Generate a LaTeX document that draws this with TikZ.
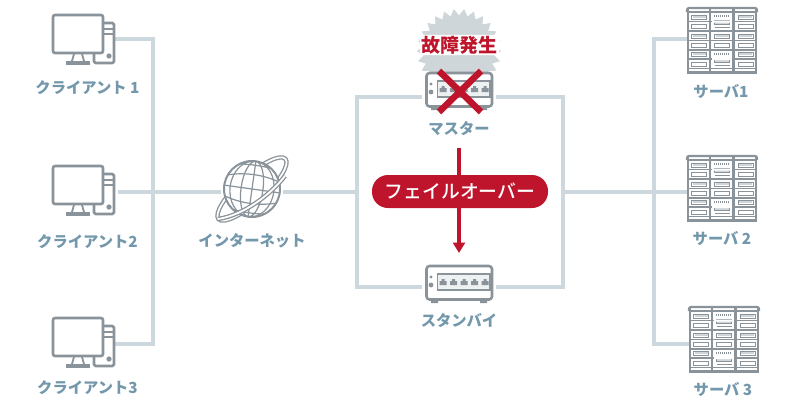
\documentclass[tikz,border=0pt]{standalone}
\usepackage{fontspec}
\setmainfont{Noto Sans CJK JP}
\newfontfamily\labelfont{Noto Sans CJK JP Medium}
\usetikzlibrary{shapes.geometric,arrows.meta}
\definecolor{linegray}{HTML}{CCD8DE}
\definecolor{icongray}{HTML}{8A9399}
\definecolor{palegray}{HTML}{CFD6DA}
\definecolor{labelblue}{HTML}{7498AB}
\definecolor{alertred}{HTML}{BF152C}
\tikzset{
    link/.style={draw=linegray,line width=3.1pt},
    spot/.style={inner sep=0pt,outer sep=0pt,minimum height=4pt},
    tag/.style={text=labelblue,font=\bfseries\fontsize{15.3}{15.3}\selectfont,inner sep=0pt},
    icon/.style={draw=icongray,line width=2.6pt,line join=round},
    pics/client/.style={code={
        \draw[icon,rounded corners=1.5pt] (100,23) -- (114,23) -- (114,63) -- (94,63) -- (94,52);
        \draw[icongray,line width=2.6pt] (104,29) -- (113,29) (104,34) -- (113,34);
        \fill[icongray] (109,56) circle (2.6);
        \draw[icon,fill=white,rounded corners=2pt] (53,15) rectangle (103,53);
        \draw[icongray,line width=1.8pt] (74,54) -- (72,61) (82,54) -- (84,61);
        \draw[icongray,line width=3.2pt] (66,63) -- (90,63);
    }},
    pics/switchbox/.style={code={
        \draw[icon,fill=white,rounded corners=3pt] (426.5,266) rectangle (492,299.5);
        \draw[icongray,line width=1.1pt,fill=palegray!35] (437.5,274) rectangle (490,290);
        \fill[icongray] (431,277) circle (1.6) (431,285) circle (2.4);
        \foreach \px in {443,453.5,464,474.5,485}
            \fill[icongray] (\px-3.5,285) -- (\px-3.5,281) -- (\px-1.5,281) -- (\px-1.5,279) -- (\px+1.5,279) -- (\px+1.5,281) -- (\px+3.5,281) -- (\px+3.5,285) -- cycle;
        \fill[icongray] (431,300) rectangle (438,303) (480,300) rectangle (487,303);
    }},
    pics/rack/.style={code={
        % three columns, six rows
        \foreach \cx in {688,711,734.5} {
            \foreach \ry/\rc in {17/palegray,26.5/white,36/palegray,45/white,54.5/palegray,64/white} {
                \draw[icongray,line width=.9pt,fill=white] (\cx+3.5,\ry-2) rectangle (\cx+18.5,\ry+2);
                \fill[\rc] (\cx+4.5,\ry-1.5) rectangle (\cx+17.5,\ry+.5);
            }
        }
        % the middle column has two wider units
        \foreach \ry in {12,50} {
            \fill[white] (712,\ry+1) rectangle (732,\ry+18);
            \draw[icongray,line width=1.3pt,dash pattern=on 1pt off 1pt] (714,\ry+4) -- (730,\ry+4);
            \draw[icongray,line width=.9pt,fill=palegray] (714.5,\ry+8.5) rectangle (729.5,\ry+12);
            \draw[icongray,line width=1.4pt] (714.5,\ry+15.5) -- (729.5,\ry+15.5);
        }
        \foreach \ry in {12,21.5,31,40.5,50,59,68.5}
            \draw[icongray,line width=1.8pt] (688,\ry) -- (756,\ry);
        \fill[white] (712,21.5-1) rectangle (732,21.5+1) (712,59-1) rectangle (732,59+1);
        \foreach \cx in {688,710,733.5,756}
            \draw[icongray,line width=2.2pt] (\cx,9) -- (\cx,72);
        \draw[icongray,line width=2.2pt,rounded corners=2pt] (687,12) |- (757,8) -- (757,12);
        \draw[icongray,line width=2.4pt] (687,72.5) -- (757,72.5);
    }},
}
\begin{document}
\begin{tikzpicture}[x=1pt,y=-1pt]
    \useasboundingbox (0,0) rectangle (810,407);
    % anchors of the icons
    \node[spot,minimum width=62pt] (client1) at (84,39) {};
    \node[spot,minimum width=62pt] (client2) at (87,192) {};
    \node[spot,minimum width=62pt] (client3) at (84,344) {};
    \node[spot,minimum width=62pt] (inter) at (252,192) {};
    \node[spot,minimum width=74pt] (master) at (459,97) {};
    \node[spot,minimum width=74pt] (standby) at (459,287) {};
    \node[spot,minimum width=71pt] (server1) at (722,39) {};
    \node[spot,minimum width=71pt] (server2) at (722,192) {};
    \node[spot,minimum width=71pt] (server3) at (724,344) {};
    \coordinate (busl) at (153,192);
    \coordinate (busm) at (357,192);
    \coordinate (busr) at (563,192);
    \coordinate (buss) at (654,192);
    \coordinate (failtop) at (459,148);
    \coordinate (failend) at (459,253);
    % connectors
    \draw[link] (client1.east) -| (busl) |- (client3.east);
    \draw[link] (client2.east) -- (inter.west);
    \draw[link] (inter.east) -- (busm);
    \draw[link] (master.west) -| (busm) |- (standby.west);
    \draw[link] (master.east) -| (busr) |- (standby.east);
    \draw[link] (busr) -- (buss);
    \draw[link] (server1.west) -| (buss) |- (server3.west);
    \draw[link] (server2.west) -- (buss);
    % clients
    \foreach \cy in {0,151,303}
        \pic[yshift=-\cy pt] {client};
    \node[tag] (clabel1) at (87.5,88) {クライアント 1};
    \node[tag] (clabel2) at (87.5,242) {クライアント2};
    \node[tag] (clabel3) at (87.5,388) {クライアント3};
    % globe
    \begin{scope}[shift={(252,189)},icongray,line width=1.2pt]
        \draw[line width=4.4pt] (0,0) ellipse [x radius=45,y radius=13,rotate=42];
        \draw[white,line width=1.8pt] (0,0) ellipse [x radius=45,y radius=13,rotate=42];
        \fill[white] (0,0) circle (28);
        \begin{scope}[rotate=-8]
            \clip (0,0) circle (28);
            \draw (0,0) ellipse (11 and 28) (0,0) ellipse (22 and 28) (0,-28) -- (0,28);
            \draw (-28,0) -- (28,0);
            \draw (-28,-10) .. controls (-10,-16) and (10,-16) .. (28,-10);
            \draw (-28,-21) .. controls (-10,-25) and (10,-25) .. (28,-21);
            \draw (-28,10) .. controls (-10,16) and (10,16) .. (28,10);
            \draw (-28,21) .. controls (-10,25) and (10,25) .. (28,21);
        \end{scope}
        \draw[line width=2pt] (0,0) circle (28);
        \draw[line width=4.4pt] (-34,30) .. controls (-8,26) and (18,6) .. (33,-13);
        \draw[white,line width=1.8pt] (-34,30) .. controls (-8,26) and (18,6) .. (33,-13);
    \end{scope}
    \node[tag] (interlabel) at (252,241) {インターネット};
    % redundant pair
    \node[star,star points=26,star point ratio=.84,fill=palegray,minimum size=71pt,inner sep=0pt] (burst) at (459,51) {};
    \pic[yshift=193pt] at (0,0) {switchbox};
    \pic {switchbox};
    \node[tag] (masterlabel) at (459,129) {マスター};
    \node[tag] (standbylabel) at (459,321) {スタンバイ};
    \coordinate (xa) at (439,71);
    \coordinate (xb) at (481,112);
    \coordinate (xc) at (481,71);
    \coordinate (xd) at (439,112);
    \draw[alertred,line width=6.5pt] (xa) -- (xb) (xc) -- (xd);
    \node[fill=white,rounded corners=3pt,inner xsep=1.5pt,inner ysep=1pt,text=alertred,font=\bfseries\fontsize{19}{19}\selectfont] (fault) at (459.5,45) {故障発生};
    \draw[alertred,line width=3.4pt,-{Triangle[length=10.5pt,width=12pt]}] (failtop) -- (failend);
    \node[fill=alertred,rounded corners=16pt,minimum width=176pt,minimum height=33pt,inner sep=0pt,text=white,font=\labelfont\fontsize{18.8}{18.8}\selectfont] (failover) at (460,191.5) {フェイルオーバー};
    % servers
    \pic {rack};
    \pic[yshift=-148pt] {rack};
    \pic[shift={(2pt,-299pt)}] {rack};
    \node[tag] (slabel1) at (721,92) {サーバ1};
    \node[tag] (slabel2) at (722,239) {サーバ 2};
    \node[tag] (slabel3) at (723,390) {サーバ 3};
\end{tikzpicture}
\end{document}
